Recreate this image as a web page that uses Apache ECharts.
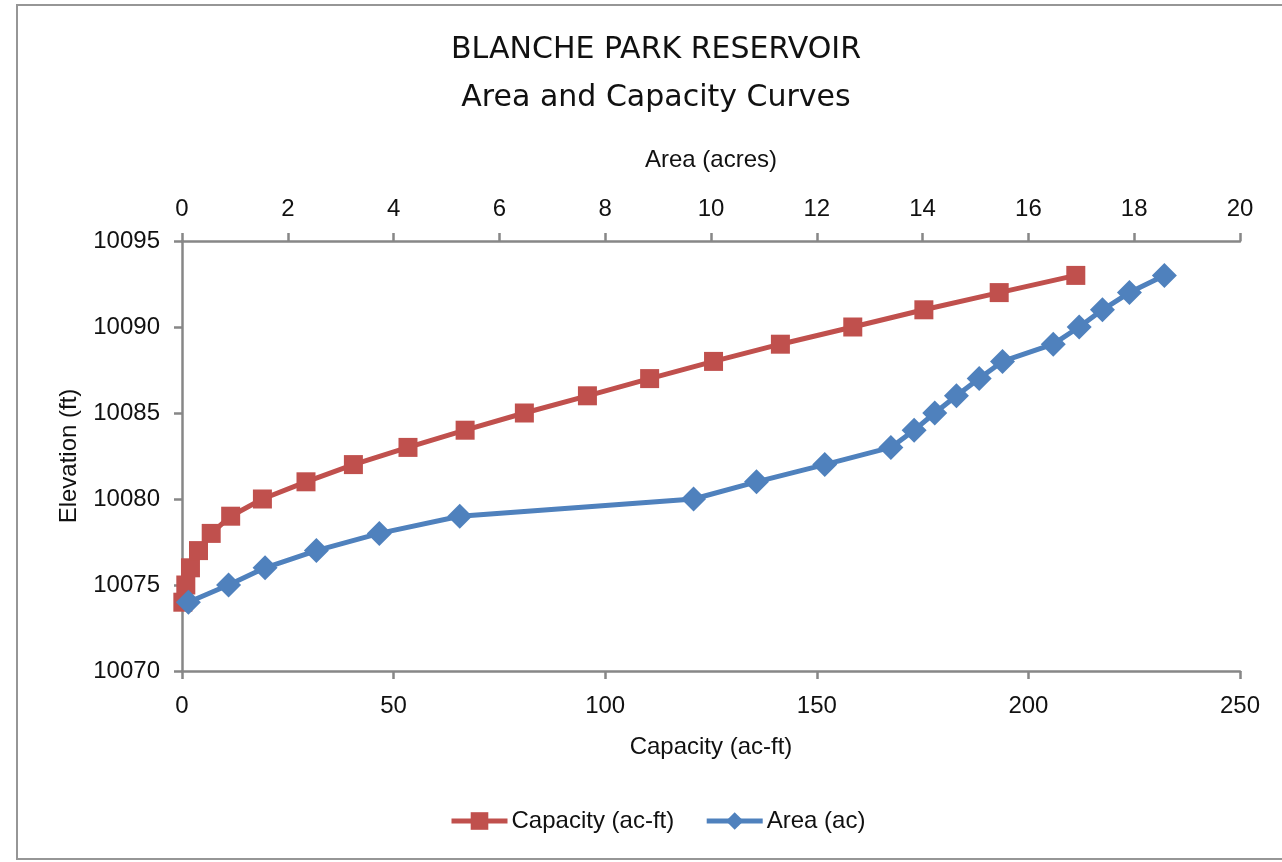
<!DOCTYPE html>
<html>
<head>
<meta charset="utf-8">
<title>Blanche Park Reservoir – Area and Capacity Curves</title>
<script src="https://cdn.jsdelivr.net/npm/echarts@6/dist/echarts.min.js"></script>
<style>
  html, body { margin: 0; padding: 0; background: #fff; }
  #chart { width: 1282px; height: 862px; }
</style>
</head>
<body>
<div id="chart"></div>
<script>
// Elevation steps (ft)
const elevations = [10074, 10075, 10076, 10077, 10078, 10079, 10080, 10081, 10082, 10083,
                    10084, 10085, 10086, 10087, 10088, 10089, 10090, 10091, 10092, 10093];
// Storage capacity at each elevation (ac-ft)
const capacity = [0.2, 0.9, 2.0, 3.9, 6.9, 11.5, 19.0, 29.3, 40.5, 53.4,
                  66.9, 80.9, 95.8, 110.5, 125.6, 141.4, 158.5, 175.3, 193.1, 211.2];
// Surface area at each elevation (acres)
const area = [0.12, 0.88, 1.57, 2.54, 3.73, 5.25, 9.67, 10.86, 12.15, 13.40,
              13.84, 14.23, 14.64, 15.07, 15.51, 16.47, 16.96, 17.40, 17.91, 18.57];

const titleLines = ['BLANCHE PARK RESERVOIR', 'Area and Capacity Curves'];
const seriesNames = ['Capacity (ac-ft)', 'Area (ac)'];

const FONT = '"Liberation Sans", Arial, sans-serif';
const FONT_SIZE = 24;
const AXIS_GRAY = '#878787';
const RED = '#C0504D';
const BLUE = '#4F81BD';

const axisCommon = {
  type: 'value',
  axisLine: { show: true, lineStyle: { color: AXIS_GRAY, width: 2.5 } },
  axisTick: { show: true, inside: false, length: 8, lineStyle: { color: AXIS_GRAY, width: 2.5 } },
  splitLine: { show: false },
  axisLabel: { color: '#111', fontFamily: FONT, fontSize: FONT_SIZE, formatter: v => String(v) },
  nameTextStyle: { color: '#111', fontFamily: FONT, fontSize: FONT_SIZE },
  nameLocation: 'middle'
};

const chart = echarts.init(document.getElementById('chart'), null, { renderer: 'canvas' });

chart.setOption({
  backgroundColor: '#fff',
  animation: false,
  graphic: [{
    type: 'rect',
    shape: { x: 17, y: 5, width: 1300, height: 854 },
    style: { fill: 'none', stroke: '#969696', lineWidth: 2 },
    silent: true
  }],
  title: {
    text: titleLines.join('\n'),
    left: 651,
    textAlign: 'center',
    top: 21,
    textStyle: {
      fontFamily: '"DejaVu Sans", sans-serif',
      fontWeight: 'normal',
      fontSize: 30,
      lineHeight: 48,
      color: '#111'
    }
  },
  legend: {
    bottom: 24,
    left: 444,
    itemWidth: 56,
    itemHeight: 22,
    itemGap: 30,
    textStyle: { fontFamily: FONT, fontSize: FONT_SIZE, color: '#111', padding: [0, 0, 0, -1] },
    data: [
      { name: seriesNames[0], lineStyle: { width: 5, color: RED } },
      { name: seriesNames[1], lineStyle: { width: 5, color: BLUE } }
    ]
  },
  grid: { left: 182, right: 42, top: 241, bottom: 191, containLabel: false },
  xAxis: [
    Object.assign({}, axisCommon, {
      position: 'bottom',
      min: 0, max: 250, interval: 50,
      name: 'Capacity (ac-ft)',
      nameGap: 64,
      axisLabel: Object.assign({}, axisCommon.axisLabel, { margin: 23 })
    }),
    Object.assign({}, axisCommon, {
      position: 'top',
      min: 0, max: 20, interval: 2,
      name: 'Area (acres)',
      nameGap: 69,
      axisLabel: Object.assign({}, axisCommon.axisLabel, { margin: 20 })
    })
  ],
  yAxis: Object.assign({}, axisCommon, {
    min: 10070, max: 10095, interval: 5,
    name: 'Elevation (ft)',
    nameGap: 101,
    nameRotate: 90,
    axisLabel: Object.assign({}, axisCommon.axisLabel, { margin: 22 })
  }),
  series: [
    {
      name: seriesNames[0],
      type: 'line',
      xAxisIndex: 0,
      data: capacity.map((c, i) => [c, elevations[i]]),
      symbol: 'rect',
      symbolSize: 19,
      showAllSymbol: true,
      lineStyle: { color: RED, width: 5 },
      itemStyle: { color: RED, borderColor: RED, borderWidth: 0 },
      z: 2
    },
    {
      name: seriesNames[1],
      type: 'line',
      xAxisIndex: 1,
      data: area.map((a, i) => [a, elevations[i]]),
      symbol: 'diamond',
      symbolSize: 25,
      showAllSymbol: true,
      lineStyle: { color: BLUE, width: 5 },
      itemStyle: { color: BLUE, borderWidth: 0 },
      z: 3
    }
  ]
});
</script>
</body>
</html>
